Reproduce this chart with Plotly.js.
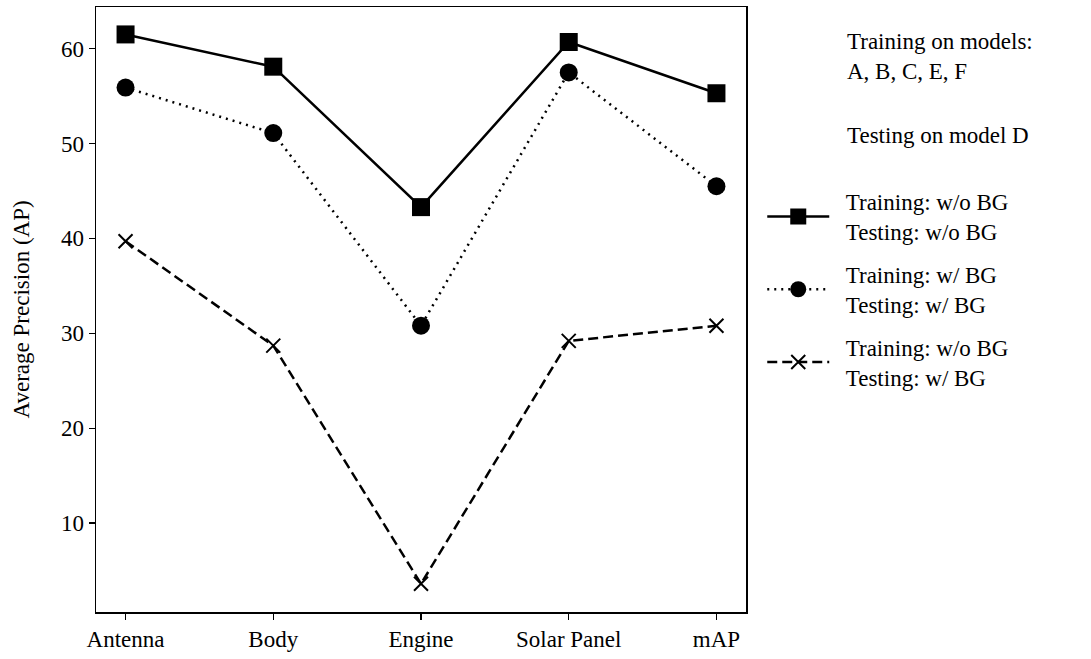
<!DOCTYPE html>
<html>
<head>
<meta charset="utf-8">
<script src="https://cdn.plot.ly/plotly-3.0.1.min.js"></script>
<style>html,body{margin:0;padding:0;background:#fff;}#chart{width:1091px;height:659px;}</style>
</head>
<body>
<div id="chart"></div>
<script>
const categories = ["Antenna", "Body", "Engine", "Solar Panel", "mAP"];
const noBgNoBg = [61.5, 58.1, 43.3, 60.7, 55.3];
const bgBg = [55.9, 51.1, 30.8, 57.5, 45.5];
const noBgBg = [39.7, 28.7, 3.6, 29.2, 30.8];
const seriesNames = [
  "Training: w/o BG<br>Testing: w/o BG",
  "Training: w/ BG<br>Testing: w/ BG",
  "Training: w/o BG<br>Testing: w/ BG"
];
const yTicks = [10, 20, 30, 40, 50, 60];
const trainNote = "Training on models:<br>A, B, C, E, F";
const testNote = "Testing on model D";

const FONT = "Liberation Serif, Times New Roman, serif";
const FS = 23;
const idx = categories.map((c, i) => i);
const pad = s => s.split("<br>").map(t => "\u00A0\u00A0" + t).join("<br>");

const traces = [
  {x: idx, y: noBgNoBg, name: pad(seriesNames[0]), legendgroup: "a", mode: "lines+markers",
   line: {color: "#000", width: 2.5, dash: "solid"},
   marker: {symbol: "square", size: 18, color: "#000"}},
  {x: idx, y: bgBg, name: pad(seriesNames[1]), legendgroup: "b", mode: "lines+markers",
   line: {color: "#000", width: 2.5, dash: "2px,5px"},
   marker: {symbol: "circle", size: 18, color: "#000"}},
  {x: idx, y: noBgBg, name: pad(seriesNames[2]), legendgroup: "c", mode: "lines+markers",
   line: {color: "#000", width: 2.5, dash: "10px,5px"},
   marker: {symbol: "x-thin", size: 14, color: "#000", line: {color: "#000", width: 2}}}
];

const noteFont = {family: FONT, size: FS, color: "#000"};
const layout = {
  width: 1091, height: 659,
  margin: {l: 96, r: 345, t: 7, b: 47},
  paper_bgcolor: "#fff", plot_bgcolor: "#fff",
  font: {family: FONT, size: FS, color: "#000"},
  showlegend: true,
  legend: {x: 1.025, xanchor: "left", y: 0.714, yanchor: "top",
           font: {family: FONT, size: FS, color: "#000"},
           traceorder: "grouped", tracegroupgap: 10,
           itemwidth: 62, bgcolor: "rgba(0,0,0,0)"},
  xaxis: {range: [-0.2, 4.2], tickvals: idx, ticktext: categories,
          showgrid: false, zeroline: false, showline: true, mirror: true,
          linecolor: "#000", linewidth: 1.5, ticks: "outside", ticklen: 6,
          tickwidth: 1.2, tickcolor: "#000", tickfont: {size: FS}},
  yaxis: {range: [0.63, 64.39], tickvals: yTicks,
          showgrid: false, zeroline: false, showline: true, mirror: true,
          linecolor: "#000", linewidth: 1.5, ticks: "outside", ticklen: 6,
          tickwidth: 1.2, tickcolor: "#000", tickfont: {size: FS}},
  annotations: [
    {xref: "paper", yref: "paper", x: 1.1524, y: 0.967, xanchor: "left", yanchor: "top",
     align: "left", showarrow: false, text: trainNote, font: noteFont},
    {xref: "paper", yref: "paper", x: 1.1524, y: 0.787, xanchor: "left", yanchor: "middle",
     align: "left", showarrow: false, text: testNote, font: noteFont},
    {xref: "paper", yref: "paper", x: -0.114, y: 0.5, xanchor: "center", yanchor: "middle",
     textangle: -90, showarrow: false, text: "Average Precision (AP)", font: noteFont}
  ]
};

Plotly.newPlot("chart", traces, layout, {displayModeBar: false, staticPlot: true});
</script>
</body>
</html>
